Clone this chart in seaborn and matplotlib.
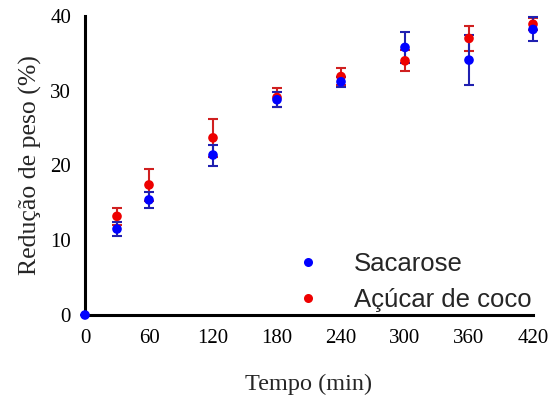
import numpy as np
import pandas as pd
import seaborn as sns
import matplotlib
matplotlib.use("Agg")
import matplotlib.pyplot as plt
from matplotlib.lines import Line2D

# Data
tempo_sac = [0, 30, 60, 120, 180, 240, 300, 360, 420]
sacarose = [0.0, 11.5, 15.4, 21.4, 28.8, 31.2, 35.8, 34.1, 38.2]
sacarose_err = [0.0, 0.95, 1.05, 1.4, 1.0, 0.7, 2.1, 3.3, 1.6]

tempo_coco = [30, 60, 120, 180, 240, 300, 360, 420]
coco = [13.2, 17.4, 23.7, 29.1, 31.9, 34.0, 37.0, 38.9]
coco_err = [1.1, 2.1, 2.5, 1.3, 1.1, 1.4, 1.7, 0.8]

labels = ["Sacarose", "Açúcar de coco"]
x_ticks = [0, 60, 120, 180, 240, 300, 360, 420]
y_ticks = [0, 10, 20, 30, 40]

# red drawn first so blue sits on top
df = pd.concat([
    pd.DataFrame({"Tempo": tempo_coco, "Valor": coco, "Erro": coco_err, "Grupo": labels[1]}),
    pd.DataFrame({"Tempo": tempo_sac, "Valor": sacarose, "Erro": sacarose_err, "Grupo": labels[0]}),
], ignore_index=True)

sns.set_style("white")
plt.rcParams["font.family"] = ["Liberation Serif", "DejaVu Serif"]

fig = plt.figure(figsize=(5.57, 4.03), dpi=100)
ax = fig.add_axes([85/557, 1-315/403, (533-85)/557, (315-16)/403])

marker_cols = {labels[0]: "#0000FF", labels[1]: "#EE0000"}
err_cols = {labels[0]: "#2020B0", labels[1]: "#D02020"}

for g in [labels[1], labels[0]]:
    sub = df[df["Grupo"] == g]
    ax.errorbar(sub["Tempo"], sub["Valor"], yerr=sub["Erro"], fmt="none",
                ecolor=err_cols[g], elinewidth=1.5, capsize=3.4, capthick=1.5,
                zorder=2, clip_on=False)

sns.scatterplot(data=df, x="Tempo", y="Valor", hue="Grupo",
                palette=marker_cols, s=48, edgecolor="none", ax=ax,
                zorder=3, clip_on=False, legend=False)

ax.set_xlim(0, 420)
ax.set_ylim(0, 40)
ax.set_xticks(x_ticks)
ax.set_yticks(y_ticks)
ax.tick_params(axis="both", direction="out", length=6, width=1.8,
               labelsize=15, pad=4, color="black", labelcolor="black")
for side in ["top", "right"]:
    ax.spines[side].set_visible(False)
for side in ["left", "bottom"]:
    ax.spines[side].set_linewidth(2.2)
    ax.spines[side].set_color("black")

ax.set_xlabel("Tempo (min)", fontsize=17.5, labelpad=19)
ax.set_ylabel("Redução de peso (%)", fontsize=18.5, labelpad=6)

handles = [Line2D([], [], marker="o", linestyle="none", markersize=6.5,
                  markerfacecolor=marker_cols[g], markeredgecolor="none") for g in labels]
leg = ax.legend(handles, labels, loc="lower right",
                bbox_to_anchor=(1.0 + 10/448, -9/299),
                frameon=False, handletextpad=1.2, labelspacing=0.48,
                prop={"family": "Liberation Sans", "size": 18.5},
                borderaxespad=0.05, handlelength=1.2)

fig.savefig("out.png", dpi=100)
